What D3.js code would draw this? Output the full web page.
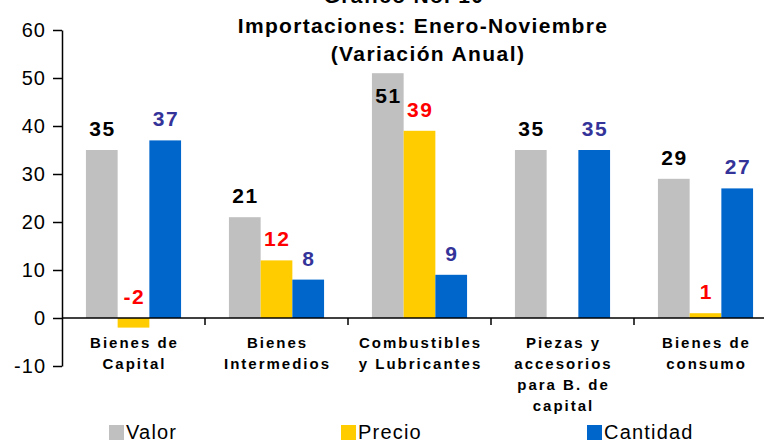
<!DOCTYPE html>
<html>
<head>
<meta charset="utf-8">
<script src="https://cdn.jsdelivr.net/npm/d3@7"></script>
<style>
  body { margin: 0; background: #fff; }
  svg { display: block; font-family: "Liberation Sans", Arial, sans-serif; }
</style>
</head>
<body>
<svg id="chart" width="764" height="442"></svg>
<script>
// categories and series
var categories = ['Bienes de Capital', 'Bienes Intermedios', 'Combustibles y Lubricantes', 'Piezas y accesorios para B. de capital', 'Bienes de consumo'];
var catLines = [['Bienes de', 'Capital'], ['Bienes', 'Intermedios'], ['Combustibles', 'y Lubricantes'], ['Piezas y', 'accesorios', 'para B. de', 'capital'], ['Bienes de', 'consumo']];
var seriesNames = ['Valor', 'Precio', 'Cantidad'];
var valor    = [35, 21, 51, 35, 29];
var precio   = [-2, 12, 39, null, 1];
var cantidad = [37, 8, 9, 35, 27];
var yTicks = [-10, 0, 10, 20, 30, 40, 50, 60];

var barColors   = {Valor: '#c0c0c0', Precio: '#ffcc00', Cantidad: '#0066cc'};
var labelColors = {Valor: '#000000', Precio: '#ff0000', Cantidad: '#333399'};

var svg = d3.select('#chart');

// scales
var x0 = d3.scaleBand().domain(categories).range([62, 777]).padding(0);
var x1 = d3.scaleBand().domain(seriesNames).range([0, x0.bandwidth()]).paddingInner(0).paddingOuter(0.755);
var y = d3.scaleLinear().domain([-10, 60]).range([366, 30]);

// title (top line is cut off in the original)
svg.append('text')
    .attr('x', 404).attr('y', 3)
    .attr('text-anchor', 'middle')
    .style('font-size', '21px').style('font-weight', 'bold').style('letter-spacing', '1.3px')
    .text('Gráfico No. 10');
svg.append('text')
    .attr('x', 423).attr('y', 33)
    .attr('text-anchor', 'middle')
    .style('font-size', '21px').style('font-weight', 'bold').style('letter-spacing', '1.3px')
    .text('Importaciones: Enero-Noviembre');
svg.append('text')
    .attr('x', 428).attr('y', 61)
    .attr('text-anchor', 'middle')
    .style('font-size', '21px').style('font-weight', 'bold').style('letter-spacing', '1.4px')
    .text('(Variación Anual)');

// rows for bars
var rows = [];
categories.forEach(function(c, i) {
    rows.push({cat: c, s: 'Valor', v: valor[i]});
    rows.push({cat: c, s: 'Precio', v: precio[i]});
    rows.push({cat: c, s: 'Cantidad', v: cantidad[i]});
});
rows = rows.filter(function(d) { return d.v != null; });

svg.append('g').selectAll('rect')
    .data(rows)
    .enter().append('rect')
    .attr('x', function(d) { return x0(d.cat) + x1(d.s); })
    .attr('width', x1.bandwidth())
    .attr('y', function(d) { return y(Math.max(d.v, 0)); })
    .attr('height', function(d) { return Math.abs(y(d.v) - y(0)); })
    .attr('fill', function(d) { return barColors[d.s]; });

// value labels
svg.append('g').selectAll('text')
    .data(rows)
    .enter().append('text')
    .attr('x', function(d) { return x0(d.cat) + x1(d.s) + x1.bandwidth() / 2 + 0.75; })
    .attr('y', function(d) { return Math.max(y(Math.max(d.v, 0)) - 14, 103); })
    .attr('text-anchor', 'middle')
    .style('font-size', '21px').style('font-weight', 'bold').style('letter-spacing', '1.5px')
    .attr('fill', function(d) { return labelColors[d.s]; })
    .text(function(d) { return d.v; });

// y axis
var yAxis = svg.append('g')
    .attr('transform', 'translate(62,0)')
    .call(d3.axisLeft(y).tickValues(yTicks).tickSize(9).tickPadding(7).tickSizeOuter(0)
        .tickFormat(function(d) { return String(d); }));
yAxis.select('.domain').attr('stroke', '#000').attr('stroke-width', 1.5);
yAxis.selectAll('.tick line').attr('stroke', '#000').attr('stroke-width', 1.5);
yAxis.selectAll('.tick text')
    .attr('fill', '#000')
    .style('font-size', '20px').style('letter-spacing', '1px')
    .style('font-family', '"Liberation Sans", Arial, sans-serif');

// x axis at zero
var xg = svg.append('g');
xg.append('line')
    .attr('x1', x0.range()[0]).attr('x2', x0.range()[1])
    .attr('y1', y(0)).attr('y2', y(0))
    .attr('stroke', '#000').attr('stroke-width', 1.5);
xg.selectAll('.xtick')
    .data(categories.slice(1))
    .enter().append('line')
    .attr('class', 'xtick')
    .attr('x1', function(d) { return x0(d); }).attr('x2', function(d) { return x0(d); })
    .attr('y1', y(0)).attr('y2', y(0) + 7)
    .attr('stroke', '#000').attr('stroke-width', 1.5);

// category labels
var catText = xg.selectAll('.cat')
    .data(categories)
    .enter().append('text')
    .attr('class', 'cat')
    .attr('text-anchor', 'middle')
    .style('font-size', '15px').style('font-weight', 'bold').style('letter-spacing', '2px')
    .attr('fill', '#000');
catText.each(function(d, i) {
    var t = d3.select(this);
    catLines[i].forEach(function(line, k) {
        t.append('tspan')
            .attr('x', x0(d) + x0.bandwidth() / 2 + 1)
            .attr('y', 348 + k * 21)
            .text(line);
    });
});

// legend
var legendX = [109, 341, 587];
var legend = svg.append('g').selectAll('g')
    .data(seriesNames)
    .enter().append('g')
    .attr('transform', function(d, i) { return 'translate(' + legendX[i] + ',425)'; });
legend.append('rect')
    .attr('width', 15).attr('height', 15)
    .attr('fill', function(d) { return barColors[d]; });
legend.append('text')
    .attr('x', 17).attr('y', 14)
    .style('font-size', '20px').style('letter-spacing', '1.2px')
    .attr('fill', '#000')
    .text(function(d) { return d; });
</script>
</body>
</html>
